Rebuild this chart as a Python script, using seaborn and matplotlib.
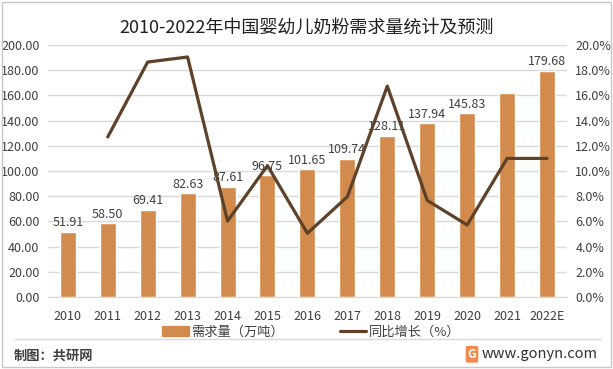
import numpy as np
import pandas as pd
import seaborn as sns
import matplotlib.pyplot as plt
from matplotlib.patches import Rectangle
from matplotlib.lines import Line2D
from matplotlib.patches import Patch

sns.set_style("white")
plt.rcParams['font.family'] = ['Noto Sans CJK SC', 'DejaVu Sans']

years = ['2010', '2011', '2012', '2013', '2014', '2015', '2016',
         '2017', '2018', '2019', '2020', '2021', '2022E']
demand = [51.91, 58.50, 69.41, 82.63, 87.61, 96.75, 101.65,
          109.74, 128.11, 137.94, 145.83, 161.90, 179.68]
growth = [np.nan, 12.7, 18.65, 19.05, 6.03, 10.43, 5.06,
          7.96, 16.74, 7.67, 5.72, 11.0, 11.0]
# 2021 has no label in the original
shown = [True] * 11 + [False, True]

bar_color = '#D38B4D'
line_color = '#5E4129'
text_color = '#404040'

df = pd.DataFrame({'year': years, 'demand': demand, 'growth': growth})

fig = plt.figure(figsize=(6.13, 3.69), dpi=100)
ax = fig.add_axes([0.078, 0.195, 0.847, 0.683])

sns.barplot(data=df, x='year', y='demand', color=bar_color, width=0.4,
            saturation=1, ax=ax)
ax.set_ylim(0, 200)
ax.set_yticks(np.arange(0, 201, 20))
ax.set_yticklabels([f'{v:.2f}' for v in np.arange(0, 201, 20)])
ax.grid(axis='y', color='#D9D9D9', linewidth=1)
ax.set_axisbelow(True)
for s in ax.spines.values():
    s.set_visible(False)
ax.spines['bottom'].set_visible(True)
ax.spines['bottom'].set_color('#D9D9D9')
ax.set_xlabel('')
ax.set_ylabel('')
ax.tick_params(axis='both', length=0, labelsize=9, colors=text_color, pad=6)
ax.tick_params(axis='x', pad=9)

for i, (v, s) in enumerate(zip(demand, shown)):
    if s:
        ax.text(i, v + 7, f'{v:.2f}', ha='center', va='center',
                fontsize=9, color=text_color)

ax2 = ax.twinx()
sns.lineplot(x=np.arange(len(years)), y=df['growth'], color=line_color,
             linewidth=2.3, ax=ax2)
ax2.set_ylim(0, 20)
ax2.set_yticks(np.arange(0, 21, 2))
ax2.set_yticklabels([f'{v:.1f}%' for v in np.arange(0, 21, 2)])
ax2.tick_params(axis='y', length=0, labelsize=9, colors=text_color, pad=6)
ax2.set_ylabel('')
for s in ax2.spines.values():
    s.set_visible(False)
ax.set_xlim(-0.5, len(years) - 0.5)

handles = [Patch(color=bar_color), Line2D([], [], color=line_color, linewidth=2.3)]
fig.legend(handles, ['需求量（万吨）', '同比增长（%）'], loc='center',
           bbox_to_anchor=(0.508, 0.1), ncol=2, frameon=False, fontsize=9.5,
           handlelength=2.0, handleheight=0.8, columnspacing=4.2,
           handletextpad=0.2, labelcolor=text_color)

fig.text(0.5, 0.925, '2010-2022年中国婴幼儿奶粉需求量统计及预测', ha='center',
         va='center', fontsize=13, color='#202020')

fig.add_artist(Line2D([0.024, 0.98], [0.081, 0.081], color='#D9D9D9',
                      linewidth=1, transform=fig.transFigure))
fig.add_artist(Rectangle((0.003, 0.005), 0.994, 0.99, fill=False,
                         edgecolor='#C8C8C8', linewidth=1,
                         transform=fig.transFigure))
fig.text(0.023, 0.035, '制图：共研网', ha='left', va='center', fontsize=9.5,
         fontweight='bold', color='#404040')
fig.text(0.77, 0.04, 'G', ha='center', va='center', fontsize=9,
         fontweight='bold', color='white',
         bbox=dict(boxstyle='round,pad=0.15', fc='#F08A4B', ec='none'))
fig.text(0.975, 0.04, 'www.gonyn.com', ha='right', va='center', fontsize=10.5,
         color='#303030')

fig.savefig('out.png', dpi=100)
